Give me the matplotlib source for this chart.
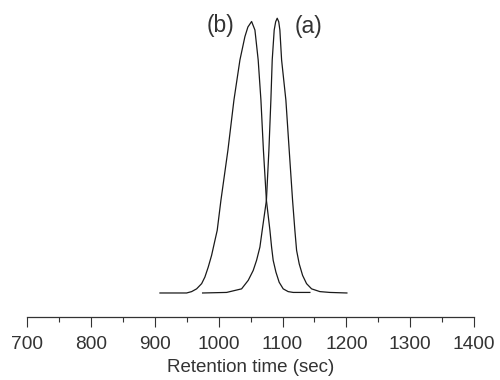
import numpy as np
import matplotlib
matplotlib.use("Agg")
import matplotlib.pyplot as plt

plt.rcParams['font.family'] = ['Liberation Sans', 'DejaVu Sans']

# peak (b): retention time (sec) vs normalised signal
time_b = [907.9, 949.7, 957.5, 965.3, 973.2, 978.3, 983.5, 988.8, 994, 997.6,
          1003.4, 1014.4, 1023.8, 1033.2, 1041, 1045.7, 1051.5, 1056.7,
          1061.8, 1066.1, 1070, 1074.7, 1080.2, 1082.8, 1085.3, 1089.6,
          1094.7, 1101, 1108.8, 1116.7, 1142.8]
signal_b = [0, 0, 0.005, 0.015, 0.034, 0.058, 0.094, 0.137, 0.191, 0.228,
            0.337, 0.520, 0.702, 0.848, 0.933, 0.968, 0.988, 0.957,
            0.848, 0.702, 0.520, 0.337, 0.228, 0.167, 0.119, 0.076,
            0.039, 0.015, 0.005, 0.002, 0.002]

# peak (a)
time_a = [974.7, 1012.3, 1035.8, 1046.2, 1054, 1059.3, 1064.5, 1068.1, 1074.7,
          1078.6, 1081.7, 1083.8, 1086.9, 1089.2, 1091.6, 1094, 1095.8,
          1098.5, 1105.2, 1110.4, 1115.7, 1119.3, 1122, 1126.1, 1131.4,
          1137.6, 1145.5, 1158.5, 1174.1, 1200.8]
signal_a = [0, 0.002, 0.015, 0.046, 0.082, 0.119, 0.167, 0.228, 0.337,
            0.520, 0.702, 0.848, 0.957, 0.987, 1.0, 0.987, 0.957,
            0.848, 0.702, 0.520, 0.337, 0.228, 0.155, 0.106, 0.064,
            0.034, 0.015, 0.005, 0.002, 0]

major_ticks = np.arange(700, 1401, 100)
minor_ticks = np.arange(750, 1400, 100)

fig = plt.figure(figsize=(5, 3.8), dpi=100)
ax = fig.add_axes([0.0546, 0.1658, 0.8934, 0.821])

ax.plot(time_b, signal_b, color='#1a1a1a', lw=0.9)
ax.plot(time_a, signal_a, color='#1a1a1a', lw=0.9)

ax.text(1002, 0.972, '(b)', ha='center', va='center', fontsize=16.5, color='#333333')
ax.text(1140, 0.968, '(a)', ha='center', va='center', fontsize=16.5, color='#333333')

ax.set_xlim(700, 1400)
ax.set_ylim(-0.0874, 1.048)
for s in ['top', 'right', 'left']:
    ax.spines[s].set_visible(False)
ax.spines['bottom'].set_linewidth(0.9)
ax.spines['bottom'].set_color('#333333')
ax.set_yticks([])
ax.set_xticks(major_ticks)
ax.set_xticks(minor_ticks, minor=True)
ax.tick_params(axis='x', which='major', length=7, width=0.8, color='#333333',
               labelsize=13.8, labelcolor='#333333', pad=7)
ax.tick_params(axis='x', which='minor', length=3.5, width=0.8, color='#333333')
ax.set_xlabel('Retention time (sec)', fontsize=13.5, color='#333333', labelpad=4)

fig.savefig('out.png', dpi=100)
